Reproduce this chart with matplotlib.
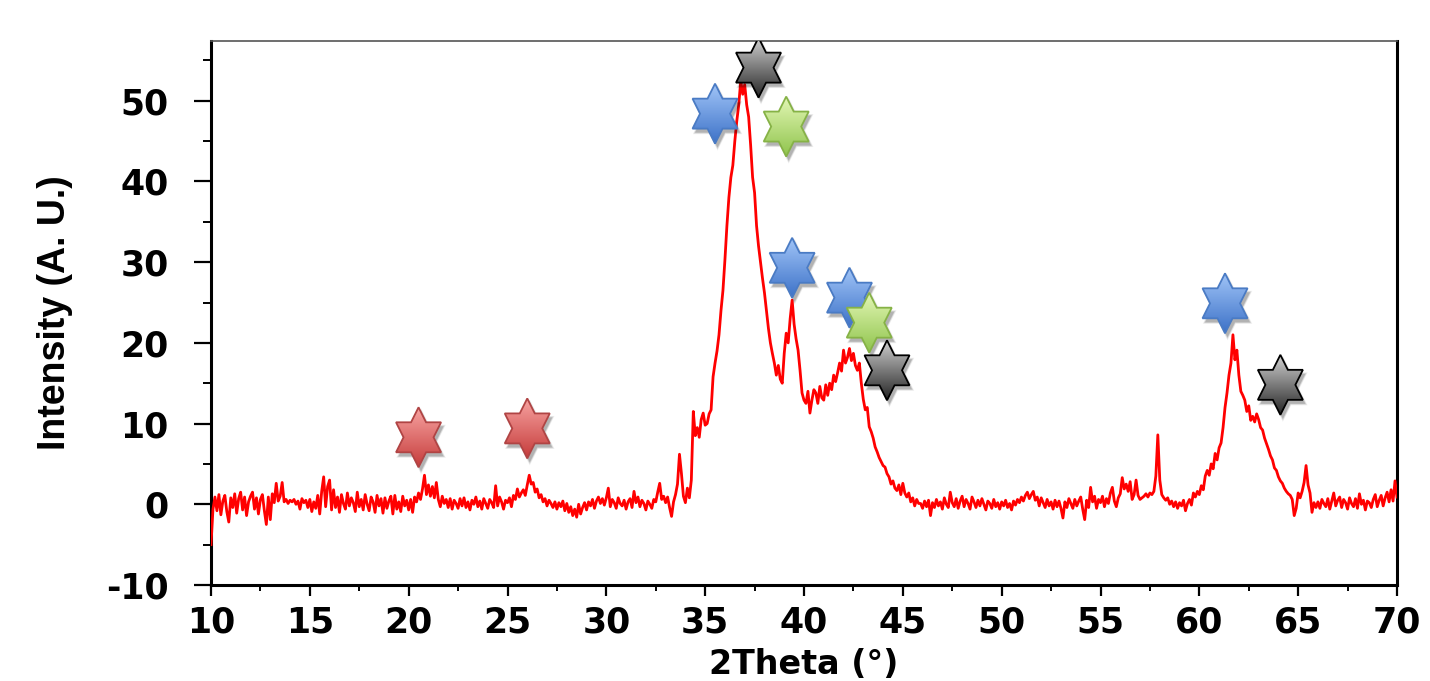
import numpy as np
import matplotlib
matplotlib.use("Agg")
import matplotlib.pyplot as plt
from matplotlib.path import Path
from matplotlib.patches import PathPatch
from matplotlib.colors import to_rgb
from matplotlib.ticker import MultipleLocator

plt.rcParams["axes.unicode_minus"] = False

# ---------------- data ----------------
scan_start = 10.0   # 2theta of first point (deg)
scan_step = 0.1     # step between points (deg)

int_10_15 = [-5.0, -0.6, 0.9, -0.8, 1.2, -1.3, 0.4, 1.1, -0.9, -2.2,
             0.8, -0.4, 1.3, -1.1, 0.7, 1.5, -0.7, 0.9, -1.4, 0.3,
             1.0, 1.5, -0.6, 0.8, -1.2, 0.6, 1.2, -0.8, -2.5, 0.9,
             -1.9, 1.3, 0.2, 2.6, 0.4, 1.0, 2.7, 0.3, 0.6, 0.1,
             0.5, 0.3, 0.6, 0.0, 0.4, -0.6, 0.7, 0.2, 0.5, -0.4]
int_15_20 = [0.6, -0.9, 0.3, -0.5, 1.1, -1.2, 1.6, 3.4, -0.3, 2.2,
             3.0, -0.7, 1.8, -0.4, 0.9, -1.0, 1.2, 0.1, -0.6, 1.4,
             -0.2, 0.8, 0.2, -0.9, 1.5, -0.3, 0.6, -0.7, 1.2, 0.0,
             -0.8, 0.9, 0.3, -1.0, 1.1, -0.2, 0.7, -1.1, 0.8, -0.5,
             0.4, 1.0, -1.2, 1.1, -0.6, 0.3, -0.9, 1.0, -0.2, 0.5]
int_20_25 = [-0.7, 0.6, -1.0, 0.9, 0.3, 1.4, 0.6, 1.9, 3.6, 1.2,
             2.4, 1.0, 2.2, 0.8, 2.7, 0.6, -0.3, 1.0, 0.1, 0.6,
             -0.4, 0.7, -0.6, 0.5, 0.1, -0.5, 0.7, -0.2, 0.8, -0.4,
             0.3, -0.7, 0.5, 0.0, 0.9, -0.3, 0.4, -0.6, 0.7, 0.1,
             -0.5, 0.6, 0.2, -0.4, 2.3, -0.2, 0.9, 0.3, -0.6, 0.5]
int_25_30 = [0.2, 0.8, -0.3, 1.1, 0.6, 1.9, 0.9, 1.4, 1.8, 1.1,
             2.4, 3.6, 2.5, 2.7, 1.5, 1.9, 0.8, 1.2, 0.3, 0.7,
             -0.2, 0.5, 0.1, -0.4, 0.3, -0.6, 0.2, -0.3, 0.4, -0.8,
             0.1, -1.0, -0.3, -1.4, -0.6, -1.6, 0.0, -1.2, -0.4, 0.2,
             -0.7, 0.3, -0.2, 0.6, -0.5, 0.4, 0.9, 0.1, 0.7, -0.1]
int_30_35 = [0.8, 2.0, -0.3, 0.6, 0.2, -0.5, 0.8, 0.1, -0.2, 0.5,
             -0.6, 0.3, 0.7, -0.4, 1.6, 0.2, 0.9, -0.3, 0.5, 0.1,
             -0.7, 0.4, 0.0, -0.5, 0.6, 0.3, 1.5, 2.6, 0.6, 1.0,
             0.2, 0.9, -0.4, -1.5, 0.3, 1.2, 2.5, 6.2, 3.8, 1.0,
             0.2, 2.0, 0.8, 3.0, 11.5, 8.5, 9.5, 8.3, 10.5, 11.3]
int_35_40 = [9.8, 10.0, 11.2, 11.7, 15.8, 17.5, 19.0, 21.0, 24.0, 26.5,
             30.3, 34.5, 38.0, 40.5, 42.0, 45.0, 47.5, 49.5, 52.5, 50.8,
             52.0, 49.5, 48.0, 44.5, 40.5, 38.6, 34.5, 32.0, 30.0, 28.0,
             26.2, 24.0, 21.8, 20.0, 18.7, 17.5, 16.0, 17.2, 15.5, 15.0,
             18.7, 21.2, 20.0, 23.0, 25.3, 22.3, 20.5, 19.1, 16.6, 13.8]
int_40_45 = [12.9, 12.5, 14.0, 11.3, 12.9, 14.2, 13.8, 12.5, 14.6, 13.2,
             12.9, 14.8, 13.5, 15.0, 14.2, 16.0, 15.2, 16.3, 17.5, 16.5,
             19.1, 17.5, 18.2, 19.3, 17.8, 18.7, 17.2, 16.6, 17.5, 15.0,
             13.0, 11.7, 12.0, 9.6, 9.0, 8.2, 7.1, 6.5, 5.8, 5.3,
             4.8, 4.6, 3.8, 3.4, 2.5, 2.9, 2.0, 1.7, 2.4, 1.2]
int_45_50 = [2.6, 1.4, 0.9, 1.4, 0.3, 0.8, -0.2, 0.6, 0.1, 0.1,
             -0.5, 0.4, -0.3, 0.5, -1.4, 0.2, -0.4, 0.6, -0.2, 0.3,
             -0.6, 0.8, 0.0, -0.4, 1.5, 0.2, -0.3, 0.7, -0.5, 0.4,
             1.0, -0.3, 0.6, 0.1, -0.6, 0.9, 0.3, -0.4, 0.5, -0.2,
             0.7, 0.0, -0.7, 0.4, 0.1, -0.5, 0.6, -0.3, 0.2, -0.6]
int_50_55 = [0.3, -0.2, 0.5, -0.4, 0.1, -0.7, 0.4, -0.1, 0.6, 0.2,
             0.9, 0.4, 1.1, 1.5, 0.7, 1.2, 1.6, 0.5, 0.9, -0.2,
             0.8, 0.2, -0.4, 0.6, -0.2, 0.3, -0.6, 0.5, -0.3, 0.4,
             -0.5, -1.7, 0.3, -0.4, 0.7, 0.1, -0.5, 0.6, -0.2, 0.4,
             0.9, -0.6, -1.9, 0.5, -0.4, 2.1, 0.3, 1.0, -0.5, 0.6]
int_55_60 = [0.2, 1.0, -0.3, 0.7, 0.1, 1.4, 2.1, 0.4, -0.3, 0.8,
             1.3, 3.3, 1.9, 2.5, 1.6, 2.8, 0.6, 1.2, 3.0, 1.1,
             0.6, 0.8, 1.0, 1.3, 0.9, 1.4, 1.2, 1.6, 3.5, 8.6,
             3.0, 1.2, 0.8, 0.5, 0.8, 0.0, 0.4, -0.3, 0.3, -0.5,
             0.2, -0.2, 0.5, -0.8, 0.1, 0.6, -0.1, 1.4, 0.9, 1.6]
int_60_65 = [1.2, 2.3, 1.8, 3.5, 4.2, 3.6, 5.0, 4.4, 6.3, 5.5,
             7.0, 7.6, 9.5, 12.0, 13.8, 16.0, 17.5, 21.0, 17.9, 19.1,
             16.0, 14.0, 13.5, 12.9, 11.5, 12.2, 10.4, 10.9, 10.2, 11.2,
             10.5, 9.5, 9.2, 8.2, 7.5, 6.8, 6.0, 5.5, 4.5, 4.2,
             3.4, 2.9, 2.6, 2.0, 1.6, 1.3, 1.1, 0.6, -1.4, -0.5]
int_65_70 = [1.4, 0.8, 1.6, 2.7, 4.8, 2.4, 1.4, -1.0, 0.2, -0.4,
             0.3, -0.5, 0.6, 0.1, -0.3, 0.7, -0.6, 0.4, 1.4, -0.2,
             0.5, 0.9, -0.4, 0.6, 0.2, -0.6, 0.8, 0.1, -0.3, 0.7,
             -0.5, 1.3, 0.0, 0.5, -0.7, 0.4, 0.2, -0.4, 0.6, 1.2,
             -0.3, 0.5, 1.1, -0.2, 0.8, 1.5, 0.3, 1.8, 0.4, 2.9, 0.9]

# phase markers (six-pointed stars): position in data units and phase
star_x = [20.5, 26.0, 35.5, 37.7, 39.1, 39.4, 42.3, 43.3, 44.2, 61.3, 64.1]
star_y = [8.3, 9.4, 48.4, 54.1, 46.8, 29.3, 25.6, 22.5, 16.6, 24.9, 14.8]
star_phase = ["red", "red", "blue", "gray", "green", "blue", "blue",
              "green", "gray", "blue", "gray"]

x_ticks = [10, 15, 20, 25, 30, 35, 40, 45, 50, 55, 60, 65, 70]
y_ticks = [-10, 0, 10, 20, 30, 40, 50]

# ---------------- styling ----------------
phase_colors = {
    "red":   ("#f7a3a1", "#c63d3c", "#b04444"),
    "blue":  ("#a0c4f7", "#3d72c8", "#4a7bc4"),
    "green": ("#e2f6b4", "#8fc44c", "#86b246"),
    "gray":  ("#cfcfcf", "#262626", "#000000"),
}

intensity = np.array(int_10_15 + int_15_20 + int_20_25 + int_25_30 + int_30_35 +
                     int_35_40 + int_40_45 + int_45_50 + int_50_55 + int_55_60 +
                     int_60_65 + int_65_70)
two_theta = scan_start + scan_step * np.arange(len(intensity))

fig = plt.figure(figsize=(14.3, 6.81), dpi=100)
ax = fig.add_axes([211 / 1430, 1 - 585 / 681, (1397 - 211) / 1430, (585 - 41) / 681])

ax.plot(two_theta, intensity, color="#ff0000", lw=2.0, zorder=3)

ax.set_xlim(10, 70)
ax.set_ylim(-10, 57.4)

# stars -------------------------------------------------------------
fig.canvas.draw()
p0 = ax.transData.transform((0, 0))
px_per_x = ax.transData.transform((1, 0))[0] - p0[0]
px_per_y = ax.transData.transform((0, 1))[1] - p0[1]

half_w_px = 26.0   # horizontal scale of hexagram (px)
half_h_px = 30.0   # outer radius vertically (px)


def hexagram(cx, cy, sx, sy):
    verts = []
    for k in range(12):
        ang = np.pi / 2 + k * np.pi / 6
        r = 1.0 if k % 2 == 0 else 1 / np.sqrt(3)
        verts.append((cx + sx * r * np.cos(ang), cy + sy * r * np.sin(ang)))
    verts.append(verts[0])
    codes = [Path.MOVETO] + [Path.LINETO] * 11 + [Path.CLOSEPOLY]
    return Path(verts, codes)


sx = half_w_px / px_per_x
sy = half_h_px / px_per_y
for n, (cx, cy, ph) in enumerate(zip(star_x, star_y, star_phase)):
    top, bot, edge = phase_colors[ph]
    z = 5 + n * 0.1
    # soft shadow
    for k, grow in enumerate([1.10, 1.05, 1.0]):
        sh = PathPatch(hexagram(cx + 2.5 / px_per_x, cy - 4.0 / px_per_y,
                                sx * grow, sy * grow),
                       facecolor="black", edgecolor="none", alpha=0.07 + 0.04 * k,
                       zorder=z)
        ax.add_patch(sh)
    path = hexagram(cx, cy, sx, sy)
    clip = PathPatch(path, transform=ax.transData, facecolor="none", edgecolor="none")
    t = np.linspace(0, 1, 64)[:, None]
    c0 = np.array(to_rgb(top))
    c1 = np.array(to_rgb(bot))
    grad = (c0[None, None, :] * (1 - t[:, :, None]) + c1[None, None, :] * t[:, :, None])
    im = ax.imshow(grad, extent=(cx - sx, cx + sx, cy - sy, cy + sy),
                   aspect="auto", interpolation="bilinear", zorder=z + 0.01)
    im.set_clip_path(clip)
    ax.add_patch(PathPatch(path, facecolor="none", edgecolor=edge, lw=1.3,
                           zorder=z + 0.02))

ax.set_xlim(10, 70)
ax.set_ylim(-10, 57.4)
ax.set_aspect("auto")

# axes styling ------------------------------------------------------
ax.set_xticks(x_ticks)
ax.set_yticks(y_ticks)
ax.xaxis.set_minor_locator(MultipleLocator(2.5))
ax.yaxis.set_minor_locator(MultipleLocator(5))
ax.tick_params(axis="x", which="major", direction="out", length=8, width=1.6,
               pad=7, labelsize=25)
ax.tick_params(axis="x", which="minor", direction="out", length=4, width=1.4)
ax.tick_params(axis="y", which="major", direction="out", length=12.5, width=1.6,
               pad=18, labelsize=25)
ax.tick_params(axis="y", which="minor", direction="out", length=6, width=1.4)
for lab in ax.get_xticklabels() + ax.get_yticklabels():
    lab.set_fontweight("bold")
    lab.set_family("DejaVu Sans")

for side in ["left", "bottom", "right"]:
    ax.spines[side].set_linewidth(2.2)
    ax.spines[side].set_color("black")
ax.spines["top"].set_linewidth(1.2)
ax.spines["top"].set_color("#555555")

ax.set_xlabel("2Theta (°)", fontsize=24, fontweight="bold", family="DejaVu Sans",
              labelpad=6)
ax.set_ylabel("Intensity (A. U.)", fontsize=27, fontweight="bold",
              family=["Liberation Sans Narrow", "Liberation Sans"], labelpad=24)

fig.savefig("out.png", dpi=100)
